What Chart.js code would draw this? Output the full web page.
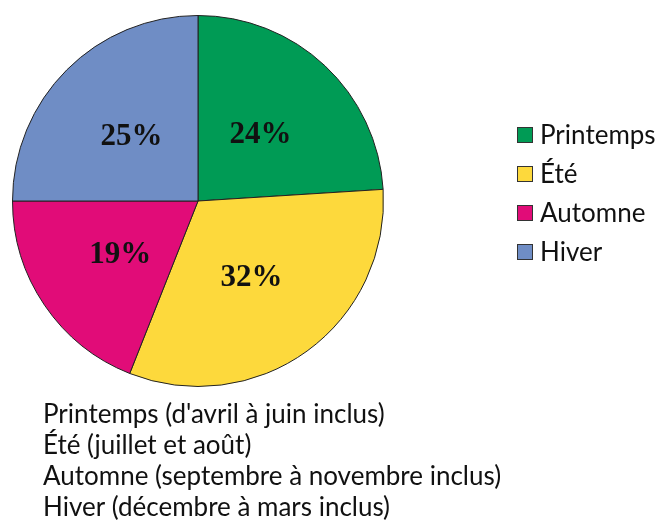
<!DOCTYPE html>
<html>
<head>
<meta charset="utf-8">
<script src="https://cdn.jsdelivr.net/npm/chart.js@4.4.0/dist/chart.umd.min.js"></script>
<style>
  html, body { margin: 0; padding: 0; background: #ffffff; }
  #wrap { width: 657px; height: 524px; position: relative; }
</style>
</head>
<body>
<div id="wrap"><canvas id="c" width="657" height="524"></canvas></div>
<script>
const categories = ['Printemps', 'Été', 'Automne', 'Hiver'];
const values = [24, 32, 19, 25];
const colors = ['#009B55', '#FDD93C', '#E10C78', '#6F8DC5'];
const notes = [
  "Printemps (d'avril à juin inclus)",
  "Été (juillet et août)",
  "Automne (septembre à novembre inclus)",
  "Hiver (décembre à mars inclus)"
];

const textFont = 'Lato, "Open Sans", sans-serif';

const extras = {
  id: 'extras',
  afterDatasetsDraw(chart) {
    const ctx = chart.ctx;
    const meta = chart.getDatasetMeta(0);
    ctx.save();
    ctx.fillStyle = '#111';
    ctx.font = 'bold 31px "Liberation Serif", serif';
    ctx.textAlign = 'center';
    ctx.textBaseline = 'middle';
    meta.data.forEach((arc, i) => {
      const p = arc.getCenterPoint();
      ctx.fillText(values[i] + '%', p.x - 1, p.y + 2);
    });
    ctx.restore();
  },
  afterDraw(chart) {
    const ctx = chart.ctx;
    ctx.save();
    // legend
    ctx.font = '26px ' + textFont;
    ctx.textAlign = 'left';
    ctx.textBaseline = 'alphabetic';
    categories.forEach((c, i) => {
      const cy = 135 + i * 39;
      ctx.fillStyle = colors[i];
      ctx.fillRect(517.5, cy - 7.5, 15, 15);
      ctx.strokeStyle = '#333';
      ctx.lineWidth = 1;
      ctx.strokeRect(517.5, cy - 7.5, 15, 15);
      ctx.fillStyle = '#111';
      ctx.fillText(c, 540, cy + 8.5);
    });
    // notes
    notes.forEach((n, i) => {
      ctx.fillText(n, 43, 423 + i * 31);
    });
    ctx.restore();
  }
};

new Chart(document.getElementById('c'), {
  type: 'pie',
  data: {
    labels: categories,
    datasets: [{
      data: values,
      backgroundColor: colors,
      borderColor: '#222',
      borderWidth: 1
    }]
  },
  options: {
    responsive: false,
    animation: false,
    layout: { padding: { left: 12, top: 15, right: 273, bottom: 137 } },
    plugins: {
      legend: { display: false },
      tooltip: { enabled: false }
    }
  },
  plugins: [extras]
});
</script>
</body>
</html>
